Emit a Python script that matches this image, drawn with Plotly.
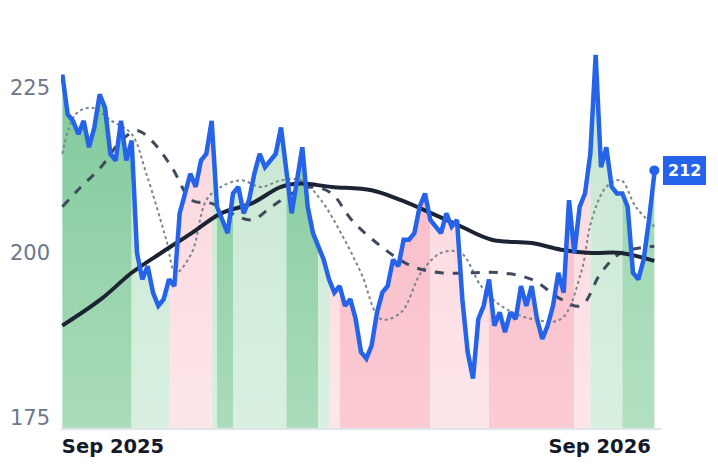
import pandas as pd
import plotly.graph_objects as go

start = pd.Timestamp("2025-07-25")

price = [227, 221, 220, 218, 220, 216, 219, 224, 222, 215, 214, 220, 214, 217,
         200, 196, 198, 194, 192, 193, 196, 195, 206, 209, 212, 210, 214, 215,
         220, 207, 205, 203, 209, 210, 206, 208, 212, 215, 213, 214, 215, 219,
         212, 206, 211, 216, 207, 203, 201, 199, 196, 194, 195, 192, 193, 190,
         185, 184, 186, 191, 194, 195, 199, 198, 202, 202, 203, 207, 209, 205,
         204, 203, 206, 204, 205, 193, 185, 181, 190, 192, 196, 189, 191, 188,
         191, 190, 195, 192, 195, 190, 187, 189, 192, 197, 194, 208, 200, 207,
         209, 215, 230, 213, 216, 210, 209, 209, 207, 197, 196, 199, 205, 212]
dates = [start + pd.Timedelta(days=4 * i) for i in range(len(price))]

# moving averages, sampled by day offset from start
ma_long_days = [0, 29, 52, 74, 97, 119, 142, 164, 179, 202, 232, 254, 277, 299, 322, 352, 374, 397, 419, 444]
ma_long = [189, 193, 197, 200, 203, 206, 207.5, 210, 210.5, 210, 209.5, 208, 206, 204, 202, 201.5, 200.5, 200, 200, 198.8]
ma_mid_days = [0, 14, 29, 44, 56, 67, 82, 97, 112, 127, 142, 157, 172, 187, 202, 217, 239, 262, 284, 307, 329, 352, 374, 389, 404, 419, 444]
ma_mid = [207, 210, 213, 217, 218.5, 217, 213, 208, 207.5, 206, 205, 207, 209, 210, 209, 205, 201, 198, 197, 197, 197, 196, 193, 192, 197, 200, 201]
ma_short_days = [0, 10, 22, 37, 52, 63, 78, 85, 97, 108, 119, 134, 149, 164, 179, 194, 209, 224, 239, 254, 269, 284, 299, 314, 329, 352, 374, 389, 397, 408, 419, 430, 444]
ma_short = [215, 221, 222, 220, 218, 212, 202, 197, 200, 208, 210, 211, 210, 211, 211, 208, 203, 197, 190, 191, 197, 200, 200, 195, 192, 190, 190, 197, 205, 210, 211, 207, 204]

# regime segments: (first index, last index, kind)
regimes = [(0, 13, "up"), (13, 20, "upl"), (20, 28, "dnl"), (28, 29, "upl"),
           (29, 32, "up"), (32, 42, "upl"), (42, 48, "up"), (48, 50, "upl"),
           (50, 52, "dnl"), (52, 69, "dn"), (69, 80, "dnl"), (80, 96, "dn"),
           (96, 99, "dnl"), (99, 105, "upl"), (105, 111, "upm")]
regime_colors = {
    "up": ["#abdcbb", "#7cc899"],
    "upm": ["#b2e0c1", "#94d4ab"],
    "upl": ["#d9f0e1", "#c4e6cf"],
    "dn": ["#fbcbd3", "#f8b8c4"],
    "dnl": ["#fde6ea", "#fcd4db"],
}

fig = go.Figure()
for a, b, kind in regimes:
    c0, c1 = regime_colors[kind]
    fig.add_trace(go.Scatter(
        x=dates[a:b + 1], y=price[a:b + 1], mode="lines", line=dict(width=0),
        fill="tozeroy", fillcolor=c1,
        fillgradient=dict(type="vertical", start=173.5, stop=230,
                          colorscale=[[0, c0], [1, c1]]),
        hoverinfo="skip", showlegend=False))

def day_dates(days):
    return [start + pd.Timedelta(days=d) for d in days]

fig.add_trace(go.Scatter(x=day_dates(ma_short_days), y=ma_short, mode="lines", line_shape="spline",
                         line=dict(color="#7a8494", width=2, dash="dot"), showlegend=False))
fig.add_trace(go.Scatter(x=day_dates(ma_mid_days), y=ma_mid, mode="lines", line_shape="spline",
                         line=dict(color="#3f4a5c", width=3, dash="dash"), showlegend=False))
fig.add_trace(go.Scatter(x=day_dates(ma_long_days), y=ma_long, mode="lines", line_shape="spline",
                         line=dict(color="#1c2433", width=4), showlegend=False))
fig.add_trace(go.Scatter(x=dates, y=price, mode="lines",
                         line=dict(color="#2563eb", width=4.5), showlegend=False))
fig.add_trace(go.Scatter(x=[dates[-1]], y=[price[-1] + 0.5], mode="markers",
                         marker=dict(color="#2563eb", size=10), showlegend=False))

fig.add_annotation(x=dates[-1], y=price[-1] + 0.5, text="<b>212</b>", showarrow=False,
                   xanchor="left", xshift=9, bgcolor="#2563eb", bordercolor="#2563eb",
                   borderpad=4, font=dict(color="white", size=16, family="DejaVu Sans"))

fig.update_xaxes(type="date", range=[start - pd.Timedelta(days=1), dates[-1] + pd.Timedelta(days=5)],
                 tickvals=[pd.Timestamp("2025-09-01"), pd.Timestamp("2026-09-01")],
                 ticktext=["Sep 2025", "Sep 2026"], showgrid=False, showline=True,
                 linecolor="#dfe4ec", linewidth=2, ticks="", automargin=False,
                 tickfont=dict(size=19.5, color="#141a2a", family="DejaVu Sans", weight="bold"))
fig.update_yaxes(range=[173.5, 233], tickvals=[175, 200, 225], showgrid=False, zeroline=False,
                 automargin=False, ticklabelstandoff=10,
                 tickfont=dict(size=21, color="#6b778c", family="DejaVu Sans"))

# page body has an 8px margin, so the figure is sized to fit inside it
fig.update_layout(width=710, height=456, plot_bgcolor="white", paper_bgcolor="white",
                  margin=dict(l=53, r=57, t=27, b=36))
fig.write_html("out.html")
